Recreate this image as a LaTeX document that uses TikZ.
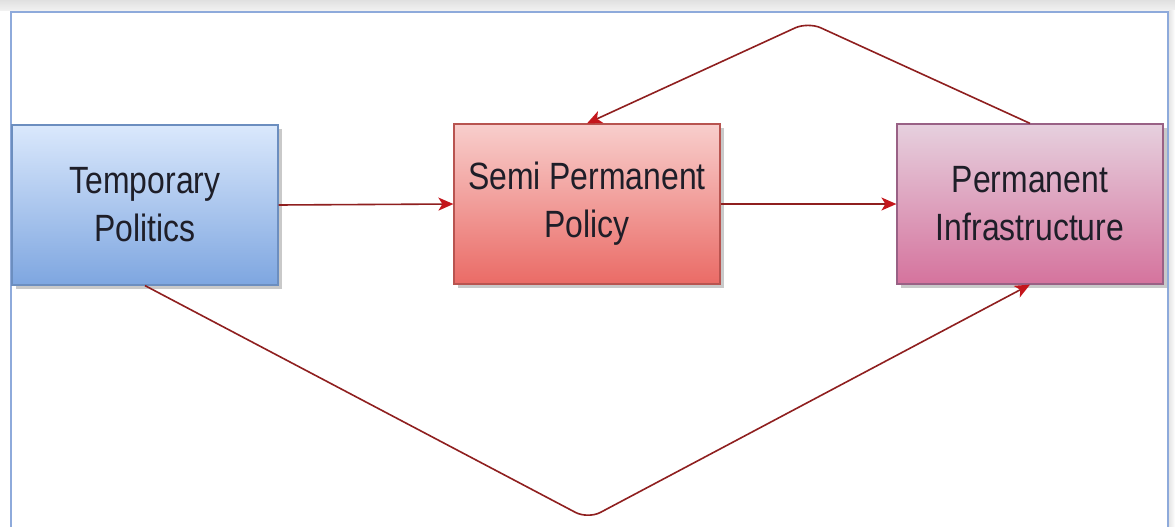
\documentclass[tikz,border=0pt]{standalone}
\usepackage{fontspec}
\setmainfont{Liberation Sans}[FakeStretch=0.84]
\usetikzlibrary{arrows.meta}
\definecolor{frameblue}{HTML}{8EAADB}
\definecolor{edgered}{HTML}{8F1F1F}
\definecolor{tipred}{HTML}{C4161C}
\definecolor{blueT}{HTML}{DAE8FC}\definecolor{blueB}{HTML}{7EA6E0}\definecolor{blueD}{HTML}{6C8EBF}
\definecolor{redT}{HTML}{F8CECC}\definecolor{redB}{HTML}{EA6B66}\definecolor{redD}{HTML}{B85450}
\definecolor{pinkT}{HTML}{E6D0DE}\definecolor{pinkB}{HTML}{D5739D}\definecolor{pinkD}{HTML}{996185}
\definecolor{txt}{HTML}{1E1E28}
\tikzset{
  stagebox/.style={rectangle, minimum width=266, minimum height=160, align=center,
    text=txt, font=\fontsize{38}{48}\selectfont, line width=1.2,
    preaction={fill=black!35, opacity=0.6, transform canvas={shift={(4pt,-4pt)}}}},
  bluebox/.style={stagebox, draw=blueD, top color=blueT, bottom color=blueB},
  redbox/.style={stagebox, draw=redD, top color=redT, bottom color=redB},
  pinkbox/.style={stagebox, draw=pinkD, top color=pinkT, bottom color=pinkB},
  flow/.style={draw=edgered, line width=1.6, rounded corners=14,
    -{Stealth[length=15, width=13, inset=4, fill=tipred, color=tipred]}}
}
\begin{document}
\begin{tikzpicture}[x=1pt, y=-1pt]
  \useasboundingbox (0,0) rectangle (1175,527);
  % window shadow along the top and right edges
  \shade[top color=black!12, bottom color=black!5] (0,0) rectangle (1175,11);
  \shade[left color=black!10, right color=white] (1169,11) rectangle (1175,527);
  \fill[white] (12,13) rectangle (1167,527);
  \draw[frameblue, line width=2] (11,527) -- (11,12) -- (1168,12) -- (1168,527);

  \node[bluebox] (temp) at (145,205) {Temporary\\Politics};
  \node[redbox]  (semi) at (587,204) {Semi Permanent\\Policy};
  \node[pinkbox] (perm) at (1030,204) {Permanent\\Infrastructure};

  \coordinate (peak) at (808,22);
  \coordinate (low) at (588,519);

  \draw[flow] (temp.east) -- (semi.west);
  \draw[flow] (semi.east) -- (perm.west);
  \draw[flow] (perm.north) -- (peak) -- (semi.north);
  \draw[flow] (temp.south) -- (low) -- (perm.south);
\end{tikzpicture}
\end{document}
